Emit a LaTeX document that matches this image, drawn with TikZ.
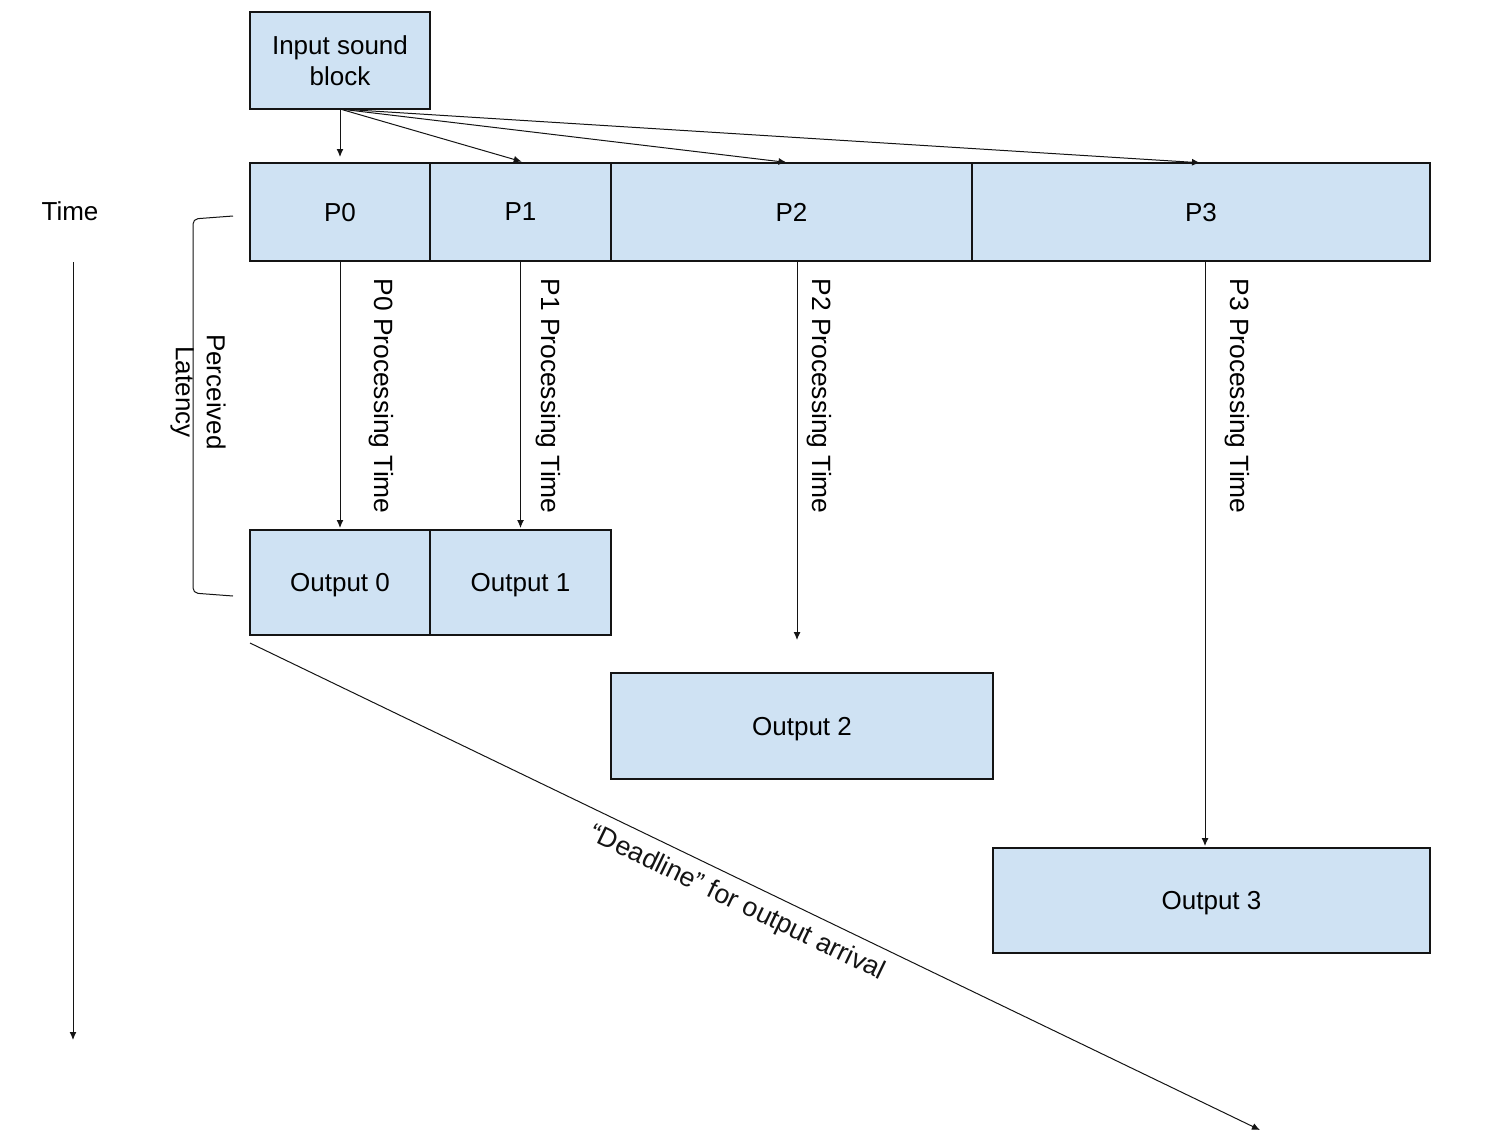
\documentclass[tikz,border=0pt]{standalone}
\usepackage{fontspec}
\setmainfont{Liberation Sans}
\usepackage{xcolor}
\usepackage{tikz}
\usetikzlibrary{arrows.meta}
\definecolor{boxfill}{RGB}{207, 226, 243}
\definecolor{primary}{RGB}{20, 20, 20}

\tikzset{
  block/.style={draw=primary, fill=boxfill, line width=0.6pt, inner sep=0pt, outer sep=0pt,
    font=\fontsize{13}{15.5}\selectfont, align=center, text depth=0pt},
  conn/.style={primary, line width=0.5pt, -{Latex[length=4pt,width=3.5pt]}},
  vlabel/.style={rotate=-90, anchor=west, font=\fontsize{13.2}{15.5}\selectfont, inner sep=0pt}
}

\begin{document}
\begin{tikzpicture}[x=0.5pt,y=-0.5pt]
\useasboundingbox (0,0) rectangle (1488,1146);
% blocks
\node[block, minimum width=90pt, minimum height=48.5pt] (in) at (340,60.5) {Input sound\\block};
\node[block, minimum width=90pt, minimum height=49pt] (p0) at (340,212) {P0};
\node[block, minimum width=90.5pt, minimum height=49pt] (p1) at (520.5,212) {P1};
\node[block, minimum width=180.5pt, minimum height=49pt] (p2) at (791.5,212) {P2};
\node[block, minimum width=229pt, minimum height=49pt] (p3) at (1201,212) {P3};
\node[block, minimum width=90pt, minimum height=52.5pt] (o0) at (340,582.5) {Output 0};
\node[block, minimum width=90.5pt, minimum height=52.5pt] (o1) at (520.5,582.5) {Output 1};
\node[block, minimum width=191pt, minimum height=53pt] (o2) at (802,726) {Output 2};
\node[block, minimum width=218.5pt, minimum height=52.5pt] (o3) at (1211.5,900.5) {Output 3};

% input to processors
\draw[conn, shorten >=3pt] (in.south) -- (p0.north);
\draw[conn, shorten >=2.5pt] (in.south) -- ([xshift=3pt]p1.north);
\draw[conn, shorten >=2.5pt] (in.south) -- (p2.north);
\draw[conn, shorten >=2pt] (in.south) -- ([xshift=1.5pt]p3.north);

% processing time
\draw[conn, shorten >=1pt] (p0.south) -- (o0.north);
\draw[conn, shorten >=1pt] (p1.south) -- (o1.north);
\coordinate (p2end) at (797,640);
\draw[conn] (p2.south -| p2end) -- (p2end);
\coordinate (p3x) at (1205,0);
\draw[conn, shorten >=1pt] (p3.south -| p3x) -- (o3.north -| p3x);
\node[vlabel] (t0) at (381,278) {P0 Processing Time};
\node[vlabel] (t1) at (548,278) {P1 Processing Time};
\node[vlabel] (t2) at (819,278) {P2 Processing Time};
\node[vlabel] (t3) at (1237,278) {P3 Processing Time};

% perceived latency bracket
\draw[primary, line width=0.5pt, rounded corners=2.5pt] (233,216) -- (193,219) -- (193,593) -- (233,596);
\node[rotate=-90, font=\fontsize{13}{15.5}\selectfont, align=center, inner sep=0pt] (lat) at (198,392) {Perceived\\Latency};

% time axis
\node[font=\fontsize{13}{15.5}\selectfont, inner sep=0pt] (time) at (70,211) {Time};
\coordinate (tstart) at (73,262);
\coordinate (tend) at (73,1040);
\draw[conn] (tstart) -- (tend);

% deadline
\coordinate (dstart) at (250,643);
\coordinate (dend) at (1260,1130);
\draw[conn] (dstart) -- (dend) node[pos=0.492, below=5pt, sloped, font=\fontsize{13.4}{15.5}\selectfont, inner sep=0pt] {``Deadline'' for output arrival};
\end{tikzpicture}
\end{document}
